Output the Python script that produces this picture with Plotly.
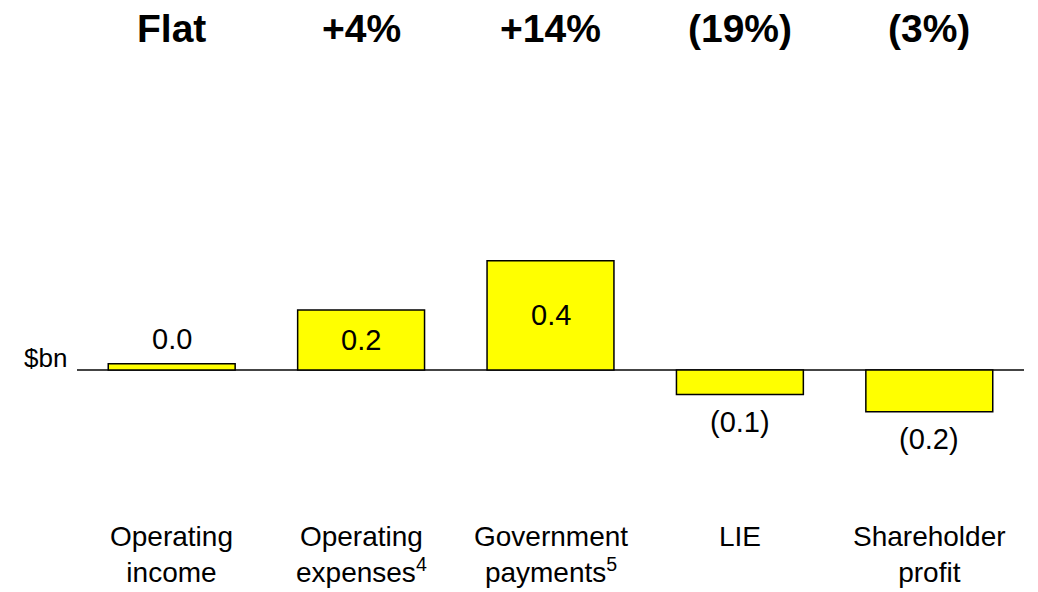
import plotly.graph_objects as go

categories = ["Operating<br>income", "Operating<br>expenses<sup>4</sup>",
              "Government<br>payments<sup>5</sup>", "LIE", "Shareholder<br>profit"]
changes = [0.023, 0.22, 0.40, -0.09, -0.153]
value_labels = ["0.0", "0.2", "0.4", "(0.1)", "(0.2)"]
growth_labels = ["Flat", "+4%", "+14%", "(19%)", "(3%)"]
label_inside = [False, True, True, False, False]

xpos = list(range(len(categories)))
FONT = "Arial, Liberation Sans, sans-serif"

fig = go.Figure()
fig.add_trace(go.Bar(
    x=xpos,
    y=changes,
    width=0.67,
    marker=dict(color="#FFFF00", line=dict(color="black", width=1.5)),
    hoverinfo="skip",
))

# value labels: inside the bar or just beyond its end
for x, v, lab, inside in zip(xpos, changes, value_labels, label_inside):
    if inside:
        fig.add_annotation(x=x, y=v / 2, text=lab, showarrow=False, yanchor="middle",
                           font=dict(size=29, color="black", family=FONT))
    else:
        fig.add_annotation(x=x, y=v, text=lab, showarrow=False, yanchor="middle",
                           yshift=25 if v >= 0 else -27,
                           font=dict(size=29, color="black", family=FONT))

# growth rates across the top
for x, lab in zip(xpos, growth_labels):
    fig.add_annotation(x=x, y=1.188, xref="x", yref="paper", text="<b>%s</b>" % lab,
                       showarrow=False, yanchor="middle",
                       font=dict(size=39, color="black", family=FONT))

# category names under the chart, top aligned
for x, lab in zip(xpos, categories):
    fig.add_annotation(x=x, y=-0.102, xref="x", yref="paper", text=lab,
                       showarrow=False, yanchor="top",
                       font=dict(size=28, color="black", family=FONT))

fig.add_annotation(x=0, y=0, xref="paper", yref="y", text="$bn", xanchor="right",
                   xshift=-8, yshift=12, showarrow=False,
                   font=dict(size=26, color="black", family=FONT))

fig.update_layout(
    width=1030, height=584,
    margin=dict(l=69, r=14, t=92, b=112),
    plot_bgcolor="white", paper_bgcolor="white",
    showlegend=False,
    xaxis=dict(range=[-0.5, 4.5], visible=False),
    yaxis=dict(range=[-0.403, 0.989], showgrid=False, showticklabels=False,
               zeroline=True, zerolinecolor="#444444", zerolinewidth=1.5),
)

fig.write_html("out.html")
